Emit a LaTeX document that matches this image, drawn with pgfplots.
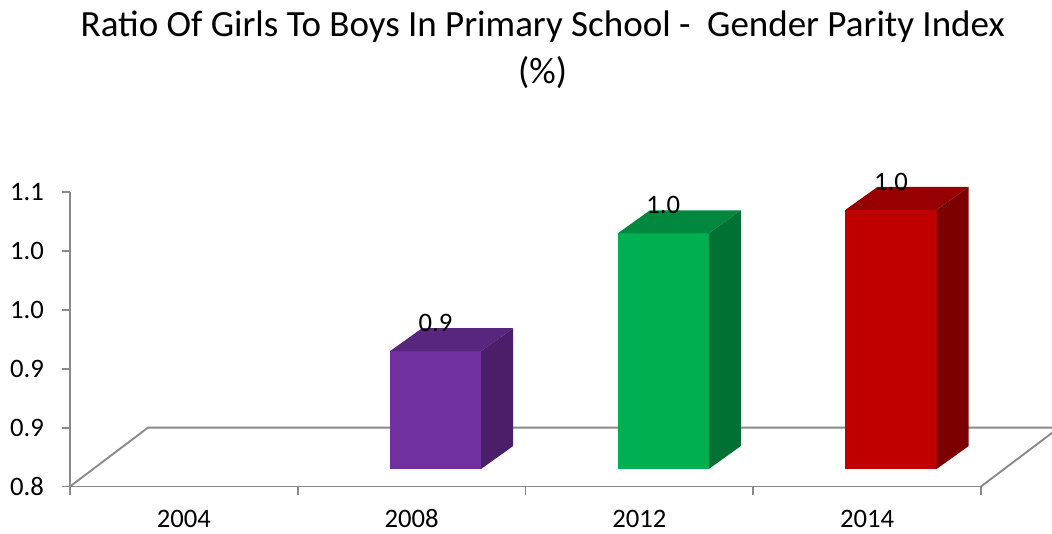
\documentclass[border=0pt]{standalone}
\usepackage{pgfplots}
\pgfplotsset{compat=1.18}
\usepackage{fontspec}
\setmainfont{Carlito}
\definecolor{axgray}{HTML}{898989}
\definecolor{pF}{HTML}{7030A0}
\definecolor{pT}{HTML}{58267F}
\definecolor{pS}{HTML}{4A1E69}
\definecolor{gF}{HTML}{00B050}
\definecolor{gT}{HTML}{00883E}
\definecolor{gS}{HTML}{007033}
\definecolor{rF}{HTML}{C00000}
\definecolor{rT}{HTML}{960000}
\definecolor{rS}{HTML}{7C0000}
% #1 category index, #2 value, #3 label, #4 front, #5 top, #6 side
\newcommand\threedbar[6]{%
  \pgfmathsetmacro\xl{#1+0.405}%
  \pgfmathsetmacro\xr{#1+0.805}%
  \pgfmathsetmacro\xlb{#1+0.546}%
  \pgfmathsetmacro\xrb{#1+0.946}%
  \pgfmathsetmacro\xc{#1+0.605}%
  \pgfmathsetmacro\yb{0.8+0.0149}%
  \pgfmathsetmacro\ybb{0.8+0.0344}%
  \pgfmathsetmacro\yt{#2+0.0149}%
  \pgfmathsetmacro\ytb{#2+0.0344}%
  \edef\doplots{%
    \noexpand\addplot[fill=#4,draw=none] coordinates {(\xl,\yb) (\xr,\yb) (\xr,\yt) (\xl,\yt)} -- cycle;
    \noexpand\addplot[fill=#5,draw=none] coordinates {(\xl,\yt) (\xr,\yt) (\xrb,\ytb) (\xlb,\ytb)} -- cycle;
    \noexpand\addplot[fill=#6,draw=none] coordinates {(\xr,\yb) (\xrb,\ybb) (\xrb,\ytb) (\xr,\yt)} -- cycle;
    \noexpand\addplot[draw=none, mark=none, nodes near coords, point meta=explicit symbolic] coordinates {(\xc,\ytb) [#3]};
  }\doplots
}
\begin{document}
\begin{tikzpicture}
\useasboundingbox (0,0) rectangle (789pt,-399.75pt);
\node[anchor=base, font=\fontsize{27.75}{33}\selectfont, inner sep=0pt] at (407pt,-27.5pt) {Ratio Of Girls To Boys In Primary School -~ Gender Parity Index};
\node[anchor=base, font=\fontsize{27.75}{33}\selectfont, inner sep=0pt] at (407pt,-62.25pt) {(\%)};
\begin{axis}[
  at={(52.5pt,-364.875pt)}, anchor=south west,
  scale only axis, width=683.25pt, height=220.875pt,
  xmin=0, xmax=4, ymin=0.8, ymax=1.05,
  clip=false,
  axis x line*=bottom, axis y line*=left,
  axis line style={draw=axgray, line width=1.4pt},
  tick align=outside, major tick length=6pt,
  tick style={draw=axgray, line width=1.4pt},
  xtick={0,1,2,3,4}, xticklabels={},
  extra x ticks={0.5,1.5,2.5,3.5},
  extra x tick labels={2004,2008,2012,2014},
  extra x tick style={major tick length=0pt, tick style={draw=none}},
  xticklabel style={anchor=base, yshift=-31.1pt, font=\fontsize{20}{24}\selectfont},
  ytick={0.8,0.85,0.9,0.95,1.0,1.05},
  yticklabels={0.8,0.9,0.9,1.0,1.0,1.1},
  yticklabel style={font=\fontsize{20}{24}\selectfont, anchor=east, xshift=-10pt},
  every node near coord/.style={anchor=center, yshift=3.75pt, text=black, font=\fontsize{20}{24}\selectfont},
]
\addplot[axgray, line width=1.4pt] coordinates {(0,0.8) (0.3425,0.85) (4.3425,0.85) (4,0.8)};
\threedbar{1}{0.90}{0.9}{pF}{pT}{pS}
\threedbar{2}{1.00}{1.0}{gF}{gT}{gS}
\threedbar{3}{1.02}{1.0}{rF}{rT}{rS}
\end{axis}
\end{tikzpicture}
\end{document}
